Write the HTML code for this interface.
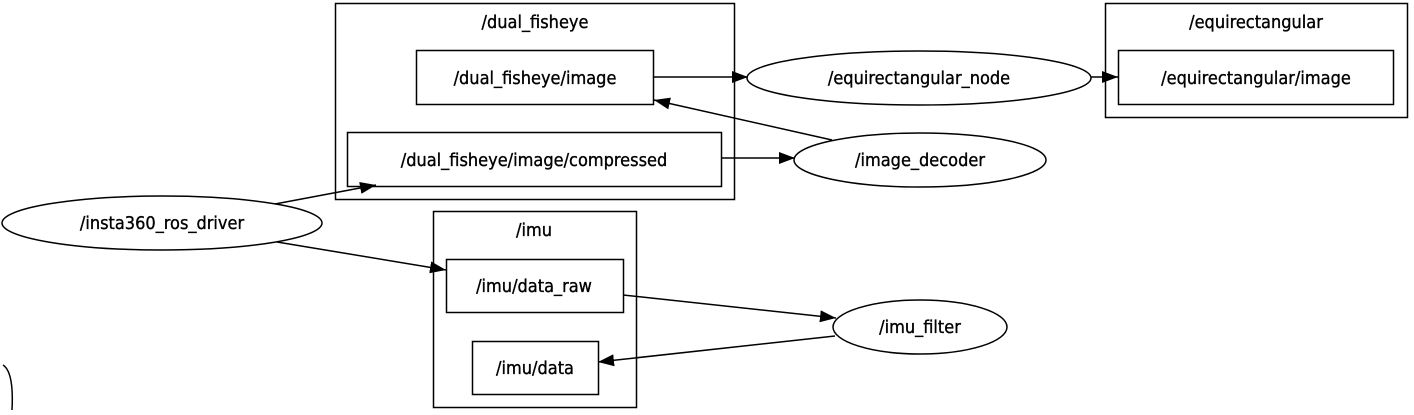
<!DOCTYPE html>
<html><head><style>
html,body{margin:0;padding:0;background:#fff;}
svg text{font-family:"DejaVu Sans Condensed","DejaVu Sans","Liberation Sans",sans-serif;font-size:18px;fill:#000;stroke:#000;stroke-width:0.35;}
</style></head><body>
<svg width="1414" height="410" viewBox="0 0 1414 410" xmlns="http://www.w3.org/2000/svg">
<defs><marker id="a" markerWidth="16" markerHeight="12" refX="16" refY="6" orient="auto" markerUnits="userSpaceOnUse"><path d="M0,0 L16,6 L0,12 Z" fill="#000"/></marker></defs>
<g fill="none" stroke="#000" stroke-width="1.5">
<rect x="335.5" y="3.5" width="399" height="196"/>
<rect x="416.5" y="50.5" width="237" height="54"/>
<rect x="347.5" y="132.5" width="374" height="54"/>
<rect x="1105.5" y="3.5" width="302" height="114"/>
<rect x="1118.5" y="50.5" width="275" height="54"/>
<rect x="433.5" y="211.5" width="203" height="196"/>
<rect x="446.5" y="259.5" width="177" height="53"/>
<rect x="472.5" y="341.5" width="126" height="53"/>
<ellipse cx="919" cy="78" rx="172" ry="27"/>
<ellipse cx="920" cy="160" rx="126" ry="27"/>
<ellipse cx="162" cy="223" rx="160" ry="27"/>
<ellipse cx="920" cy="327" rx="87" ry="27"/>
<path d="M3,365 Q14,372 12,410"/>
<line x1="653" y1="77" x2="748" y2="77" marker-end="url(#a)"/>
<line x1="1091" y1="77" x2="1118" y2="77" marker-end="url(#a)"/>
<line x1="832" y1="140" x2="654" y2="100" marker-end="url(#a)"/>
<line x1="721" y1="158" x2="795" y2="158" marker-end="url(#a)"/>
<line x1="275" y1="204" x2="376" y2="185" marker-end="url(#a)"/>
<line x1="277" y1="242" x2="446" y2="270" marker-end="url(#a)"/>
<line x1="623" y1="295" x2="836" y2="318" marker-end="url(#a)"/>
<line x1="835" y1="336" x2="598" y2="362" marker-end="url(#a)"/>
</g>
<g text-anchor="middle">
<text x="535" y="28">/dual_fisheye</text>
<text x="535" y="84">/dual_fisheye/image</text>
<text x="534" y="166">/dual_fisheye/image/compressed</text>
<text x="1256" y="28">/equirectangular</text>
<text x="1256" y="84">/equirectangular/image</text>
<text x="919" y="84">/equirectangular_node</text>
<text x="920" y="166">/image_decoder</text>
<text x="162" y="229">/insta360_ros_driver</text>
<text x="534" y="236">/imu</text>
<text x="534" y="292">/imu/data_raw</text>
<text x="535" y="374">/imu/data</text>
<text x="920" y="333">/imu_filter</text>
</g>
</svg>
</body></html>
